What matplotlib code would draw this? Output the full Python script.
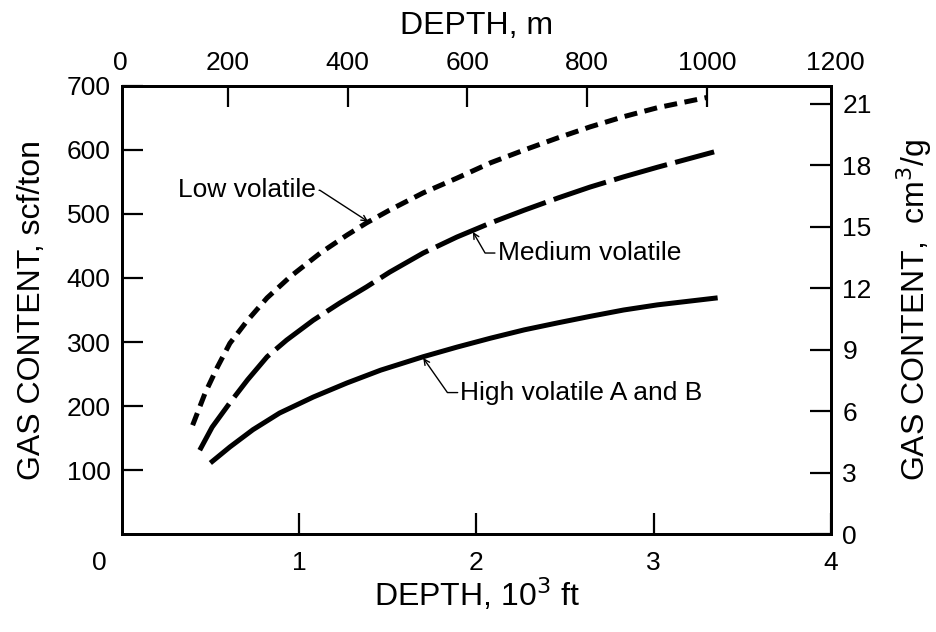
import matplotlib
matplotlib.use('Agg')
import matplotlib.pyplot as plt

# depth in 10^3 ft, gas content in scf/ton
depth_low = [0.40, 0.47, 0.54, 0.61, 0.71, 0.82, 0.95, 1.12, 1.27, 1.38,
             1.51, 1.70, 1.89, 2.08, 2.27, 2.46, 2.64, 2.83, 3.02, 3.30]
gas_low = [170, 220, 261, 298, 334, 369, 402, 439, 467, 486,
           506, 533, 556, 580, 600, 619, 636, 652, 666, 682]

depth_med = [0.44, 0.51, 0.61, 0.71, 0.82, 0.93, 1.08, 1.23, 1.38, 1.51,
             1.70, 1.89, 2.08, 2.27, 2.46, 2.64, 2.83, 3.02, 3.34]
gas_med = [131, 167, 205, 241, 277, 303, 334, 361, 386, 409,
           439, 464, 486, 506, 525, 542, 558, 573, 597]

depth_high = [0.50, 0.61, 0.74, 0.89, 1.08, 1.27, 1.46, 1.70, 1.89, 2.08,
              2.27, 2.46, 2.64, 2.83, 3.02, 3.36]
gas_high = [111, 136, 163, 189, 214, 236, 256, 277, 292, 306,
            319, 330, 340, 350, 358, 369]

ft_ticks = [0, 1, 2, 3, 4]
scf_ticks = [100, 200, 300, 400, 500, 600, 700]
cm3_ticks = [0, 3, 6, 9, 12, 15, 18, 21]
m_ticks = [200, 400, 600, 800, 1000]

SCF_PER_CM3 = 32.0

plt.rcParams['font.family'] = ['Liberation Sans', 'DejaVu Sans']

fig = plt.figure(figsize=(9.36, 6.32), dpi=100)
ax = fig.add_axes([0.130, 0.155, 0.758, 0.709])

ax.plot(depth_low, gas_low, color='black', lw=3.6, dashes=(2.6, 1.5),
        dash_capstyle='butt', solid_joinstyle='round')
ax.plot(depth_med, gas_med, color='black', lw=3.6, dashes=(11, 1.7),
        dash_capstyle='butt', solid_joinstyle='round')
ax.plot(depth_high, gas_high, color='black', lw=3.6, solid_capstyle='butt',
        solid_joinstyle='round')

ax.set_xlim(0, 4)
ax.set_ylim(0, 700)
ax.set_xticks(ft_ticks[1:])
ax.set_xticklabels([str(t) for t in ft_ticks[1:]])
ax.set_yticks(scf_ticks)
ax.tick_params(direction='in', length=15, width=1.6, labelsize=19, pad=8)
ax.tick_params(axis='x', pad=12)
ax.annotate('0', xy=(0, 0), xycoords=('data', 'axes fraction'),
            xytext=(-16, -12), textcoords='offset points',
            ha='center', va='top', fontsize=19)
for s in ax.spines.values():
    s.set_linewidth(2.0)

ax.set_xlabel('DEPTH, 10$^3$ ft', fontsize=23, labelpad=1)
ax.set_ylabel('GAS CONTENT, scf/ton', fontsize=23, labelpad=14)

# right axis in cm3/g
ax2 = ax.twinx()
ax2.set_ylim(0, 700 / SCF_PER_CM3)
ax2.set_yticks(cm3_ticks)
ax2.tick_params(direction='in', length=15, width=1.6, labelsize=19, pad=8)
ax2.set_ylabel('GAS CONTENT,  cm$^3$/g', fontsize=23, labelpad=16)
for s in ax2.spines.values():
    s.set_linewidth(2.0)

# top axis in metres (hand drawn scale, slightly offset)
ax3 = ax.twiny()
ax3.set_xlim(23, 1207)
ax3.set_xticks(m_ticks)
ax3.tick_params(direction='in', length=15, width=1.6, labelsize=19, pad=8)
ax3.annotate('0', xy=(0, 1), xycoords='axes fraction', xytext=(-1, 8),
             textcoords='offset points', ha='center', va='bottom', fontsize=19)
ax3.annotate('1200', xy=(1, 1), xycoords='axes fraction', xytext=(3, 8),
             textcoords='offset points', ha='center', va='bottom', fontsize=19)
ax3.set_xlabel('DEPTH, m', fontsize=23, labelpad=12)

arrow = dict(arrowstyle='->', color='black', lw=1.0, shrinkA=0, shrinkB=0,
             mutation_scale=10)
ax.annotate('Low volatile', xy=(1.39, 488), xytext=(0.32, 537),
            ha='left', va='center', fontsize=19,
            arrowprops=dict(arrow, connectionstyle='angle,angleA=0,angleB=147,rad=0'))
ax.annotate('Medium volatile', xy=(1.98, 472), xytext=(2.12, 439),
            ha='left', va='center', fontsize=19,
            arrowprops=dict(arrow, connectionstyle='angle,angleA=180,angleB=-60,rad=0'))
ax.annotate('High volatile A and B', xy=(1.70, 275), xytext=(1.91, 221),
            ha='left', va='center', fontsize=19,
            arrowprops=dict(arrow, connectionstyle='angle,angleA=180,angleB=-55,rad=0'))

fig.savefig('out.png', dpi=100)
